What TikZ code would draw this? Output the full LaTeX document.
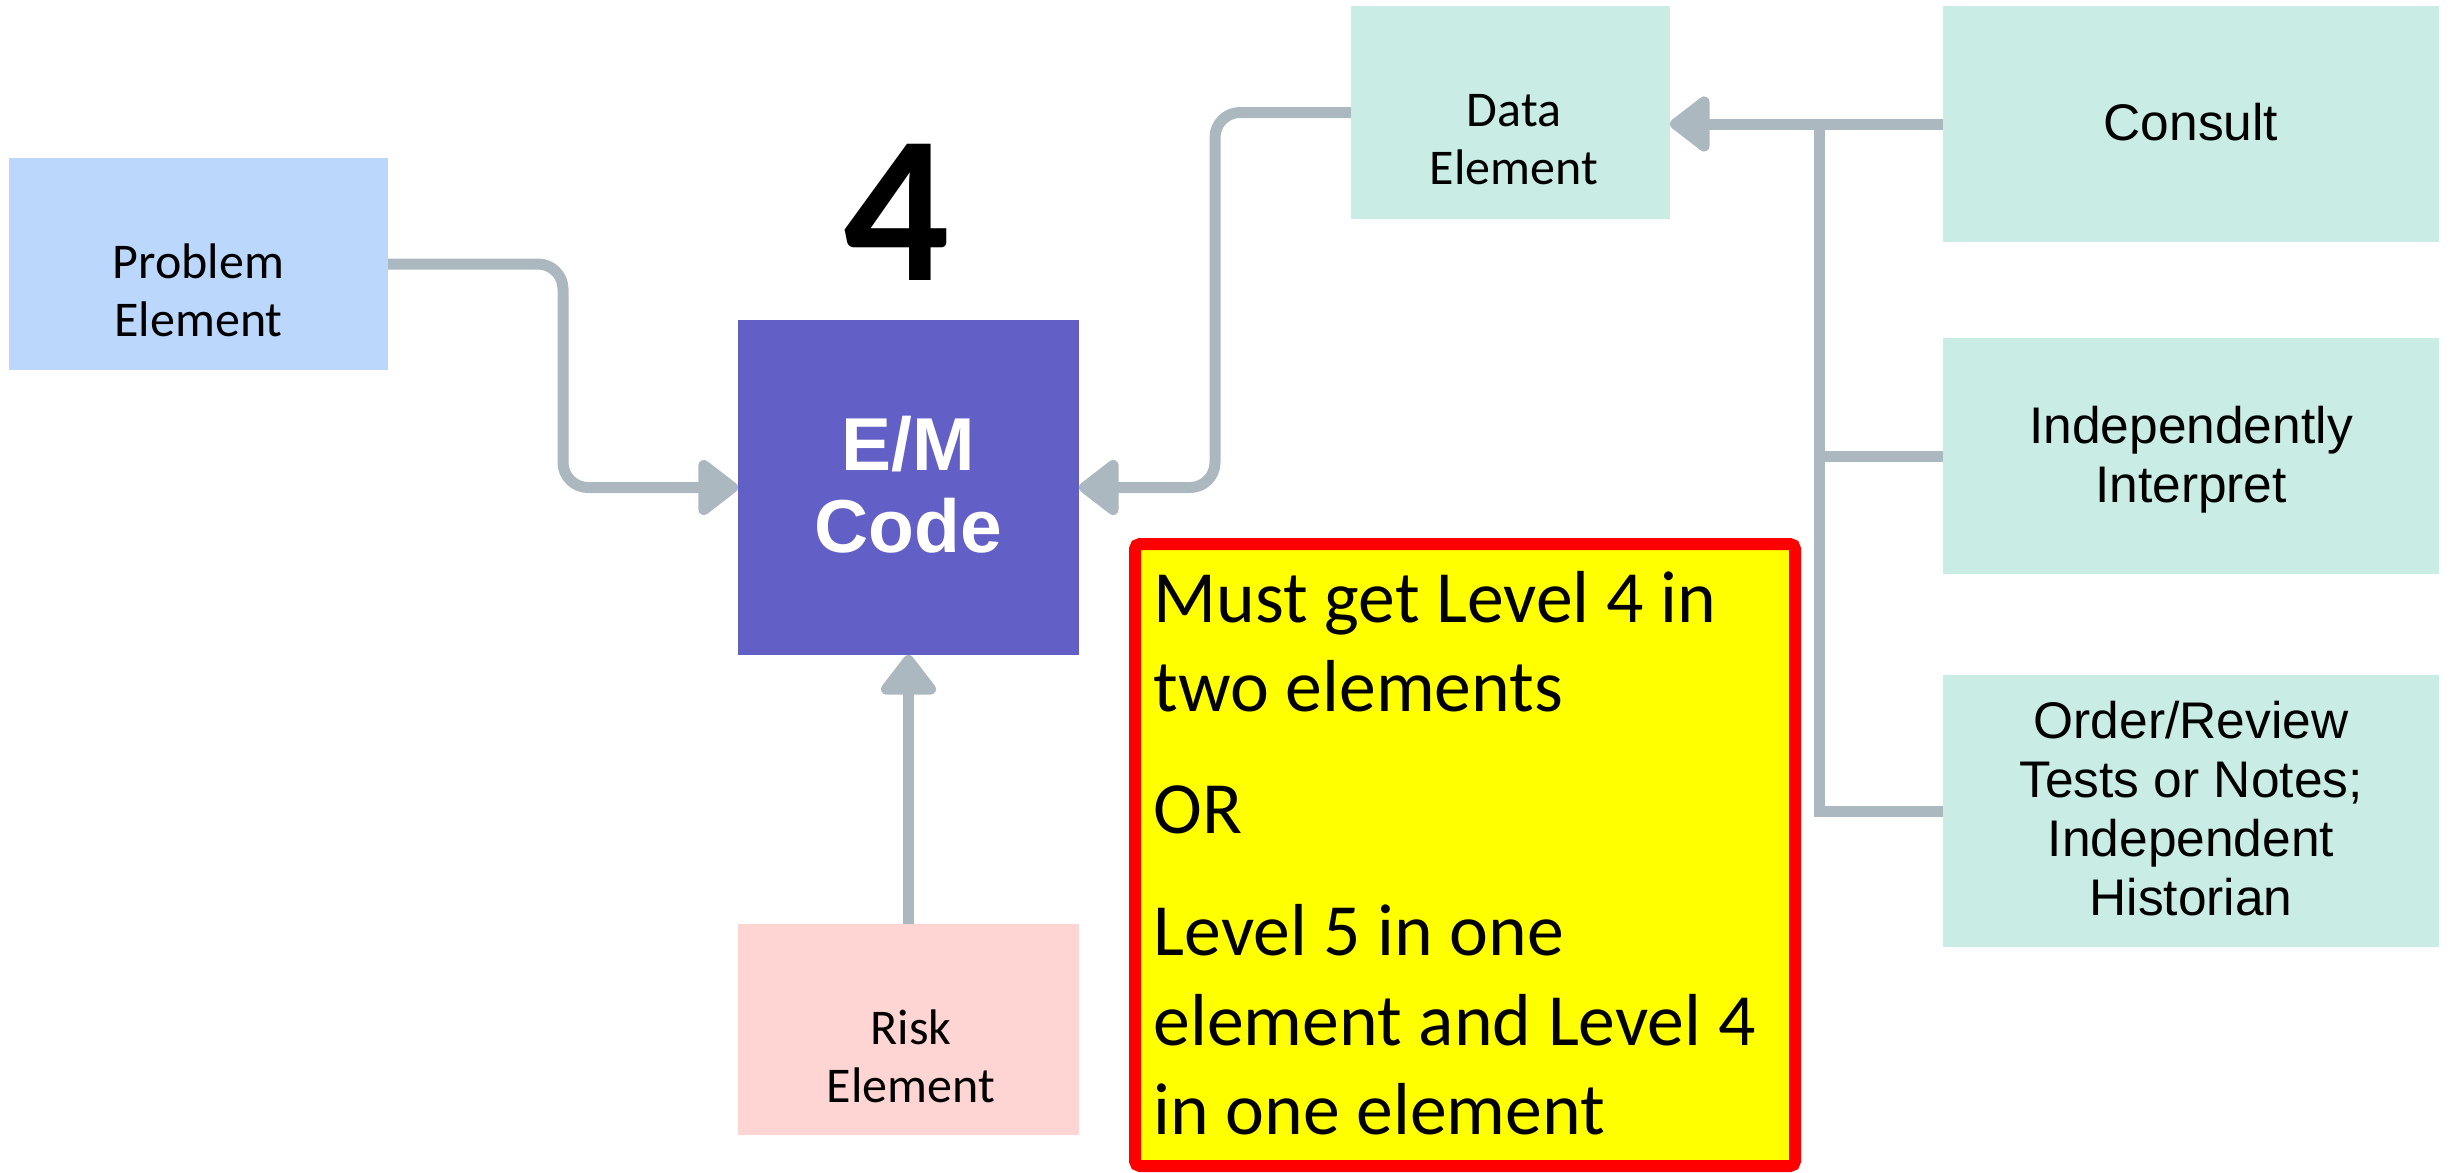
\documentclass[tikz,border=0pt]{standalone}
\usepackage{fontspec}
\setmainfont{Carlito}
\newfontfamily\uifont{Liberation Sans}
\usetikzlibrary{arrows.meta,backgrounds}

\definecolor{probblue}{RGB}{188,215,252}
\definecolor{codeviolet}{RGB}{98,95,199}
\definecolor{mint}{RGB}{201,236,228}
\definecolor{blush}{RGB}{255,213,211}
\definecolor{connc}{RGB}{172,184,191}
\definecolor{noteyellow}{RGB}{255,255,0}
\definecolor{notered}{RGB}{255,0,0}

% centred lines; the baseline of the first line is the node's base
\newcommand{\stacklines}[1]{\begin{tabular}[t]{@{}c@{}}#1\end{tabular}}

\begin{document}
\begin{tikzpicture}[x=0.3pt,y=-0.3pt,
  box/.style={draw=none, inner sep=0pt, outer sep=0pt},
  elemtxt/.style={anchor=base, inner sep=0pt, font=\fontsize{15}{17.4}\selectfont},
  uitxt/.style={anchor=base, inner sep=0pt, font=\uifont\fontsize{15.45}{17.7}\selectfont},
  conn/.style={draw=connc, line width=3.3pt, line cap=round, rounded corners=7.5pt},
  tipped/.style={-{Triangle[width=19pt,length=13pt,round]}},
  busline/.style={draw=connc, line width=3.3pt, line cap=butt, line join=miter}]
\useasboundingbox (0,0) rectangle (2451,1172);

% boxes
\node[box, fill=probblue, minimum width=113.7pt, minimum height=63.6pt] (problem) at (198.5,264) {};
\node[box, fill=codeviolet, minimum width=102.3pt, minimum height=100.5pt] (em) at (908.5,487.5) {};
\node[box, fill=mint, minimum width=95.7pt, minimum height=63.9pt] (data) at (1510.5,112.5) {};
\node[box, fill=mint, minimum width=148.8pt, minimum height=70.8pt] (consult) at (2191,124) {};
\node[box, fill=mint, minimum width=148.8pt, minimum height=70.8pt] (interp) at (2191,456) {};
\node[box, fill=mint, minimum width=148.8pt, minimum height=81.6pt] (order) at (2191,811) {};
\node[box, fill=blush, minimum width=102.3pt, minimum height=63.3pt] (risk) at (908.5,1029.5) {};

% labels
\node[elemtxt] (problemtxt) at (198.5,278) {\stacklines{Problem\\Element}};
\node[elemtxt] (datatxt) at (1514,126) {\stacklines{Data\\Element}};
\node[elemtxt] (risktxt) at (911,1044) {\stacklines{Risk\\Element}};
\node[anchor=base, inner sep=0pt, text=white,
      font=\uifont\bfseries\fontsize{22.5}{24.6}\selectfont] (emtxt) at (908.5,470) {\stacklines{E/M\\Code}};
\node[uitxt] (consulttxt) at (2191,140) {Consult};
\node[uitxt] (interptxt) at (2191,443) {\stacklines{Independently\\Interpret}};
\node[uitxt] (ordertxt) at (2191,738) {\stacklines{Order/Review\\Tests or Notes;\\Independent\\Historian}};
\node[anchor=base, inner sep=0pt, font=\bfseries\fontsize{63}{70}\selectfont] (level) at (897,280) {4};

% requirement note
\node[draw=notered, fill=noteyellow, line width=3.6pt, rounded corners=1.5pt, inner sep=0pt,
      minimum width=198pt, minimum height=186.6pt] (note) at (1465,855) {};
\node[anchor=base west, inner sep=0pt, font=\fontsize{22.1}{26.85}\selectfont] (notetxt) at (1153,622)
  {\begin{tabular}[t]{@{}l@{}}Must get Level 4 in\\ two elements\\[9.75pt] OR\\[9.75pt] Level 5 in one\\ element and Level 4\\ in one element\end{tabular}};

% connectors
\begin{pgfonlayer}{background}
\draw[conn, tipped] (problem.east) -- (563,264) |- (em.west);
\draw[conn, tipped] (data.west) -- (1215,112.5) |- (em.east);
\draw[conn, tipped] (risk.north) -- (em.south);
\draw[conn, tipped] (consult.west) -- (consult.west -| data.east);
\coordinate (bus) at (1819,124);
\draw[busline] (order.west) -| (bus);
\draw[busline] (interp.west) -- (interp.west -| bus);
\end{pgfonlayer}
\end{tikzpicture}
\end{document}
